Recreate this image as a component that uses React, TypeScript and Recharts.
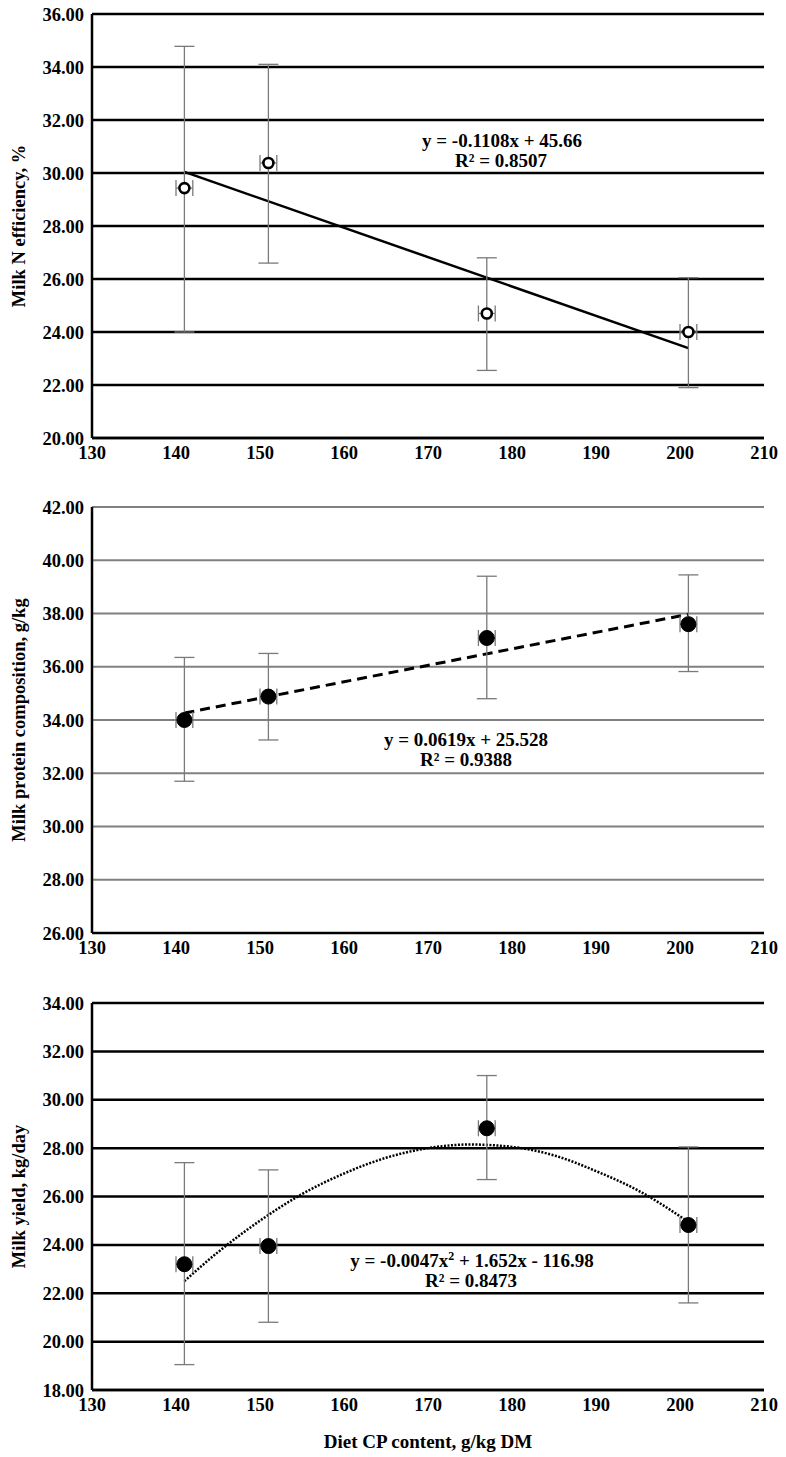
import React from 'react';
import { ComposedChart, Scatter, Line, XAxis, YAxis, CartesianGrid, ErrorBar } from 'recharts';

const FONT = '"Liberation Serif", "Times New Roman", serif';

// Shared x values (diet CP content, g/kg DM)
const dietCP = [141, 151, 177, 201];
const dietCPErr = [1, 1, 1, 1];
const xTicks = [130, 140, 150, 160, 170, 180, 190, 200, 210];

// Panel 1: Milk N efficiency, %
const nEffMean = [29.43, 30.38, 24.7, 24.0];
const nEffLow = [24.0, 26.6, 22.55, 21.9];
const nEffHigh = [34.78, 34.1, 26.8, 26.05];
const nEffTicks = [20, 22, 24, 26, 28, 30, 32, 34, 36];
const nEffTrendX = [141, 201];
const nEffTrendY = [30.04, 23.39];

// Panel 2: Milk protein composition, g/kg
const protMean = [34.0, 34.88, 37.08, 37.6];
const protLow = [31.7, 33.25, 34.8, 35.82];
const protHigh = [36.35, 36.5, 39.4, 39.45];
const protTicks = [26, 28, 30, 32, 34, 36, 38, 40, 42];
const protTrendX = [141, 201];
const protTrendY = [34.26, 37.97];

// Panel 3: Milk yield, kg/day
const yieldMean = [23.2, 23.95, 28.82, 24.82];
const yieldLow = [19.05, 20.8, 26.7, 21.6];
const yieldHigh = [27.4, 27.1, 31.0, 28.05];
const yieldTicks = [18, 20, 22, 24, 26, 28, 30, 32, 34];
const yieldTrendX = [141, 145, 150, 155, 160, 165, 170, 175, 180, 185, 190, 195, 201];
const yieldTrendY = [22.5, 23.7, 25.0, 26.1, 26.95, 27.6, 28.0, 28.15, 28.05, 27.7, 27.05, 26.25, 24.95];

const buildPoints = (mean: number[], low: number[], high: number[]) =>
  dietCP.map((x, i) => ({
    x,
    y: mean[i],
    yErr: [mean[i] - low[i], high[i] - mean[i]],
    xErr: dietCPErr[i],
  }));

const buildTrend = (xs: number[], ys: number[]) => xs.map((x, i) => ({ x, y: ys[i] }));

type PanelProps = {
  top: number;
  height: number;
  marginTop: number;
  marginBottom: number;
  xAxisHeight: number;
  points: any[];
  trend: any[];
  yTicks: number[];
  yLabel: string;
  gridColor: string;
  gridWidth: number;
  marker: 'open' | 'filled';
  trendDash?: string;
  trendWidth: number;
  trendType: 'linear' | 'monotone';
  xTitle?: string;
};

const Panel = (p: PanelProps) => {
  const shape = (props: any) => {
    const { cx, cy } = props;
    if (p.marker === 'open') {
      return <circle cx={cx} cy={cy} r={5} fill="#fff" stroke="#000" strokeWidth={2.6} />;
    }
    return <circle cx={cx} cy={cy} r={7.5} fill="#000" stroke="#000" />;
  };
  return (
    <div style={{ position: 'absolute', left: 0, top: p.top }}>
      <ComposedChart
        width={786}
        height={p.height}
        margin={{ top: p.marginTop, right: 22, bottom: p.marginBottom, left: 0 }}
      >
        <CartesianGrid horizontal vertical={false} stroke={p.gridColor} strokeWidth={p.gridWidth} />
        <XAxis
          type="number"
          dataKey="x"
          domain={[130, 210]}
          ticks={xTicks}
          allowDataOverflow
          height={p.xAxisHeight}
          tickLine={false}
          tickSize={0}
          tickMargin={8}
          axisLine={{ stroke: '#000', strokeWidth: 2.5 }}
          tick={{ fill: '#000', fontSize: 18.5, fontWeight: 700, fontFamily: FONT }}
          label={
            p.xTitle
              ? {
                  value: p.xTitle,
                  position: 'insideBottom',
                  offset: 2,
                  style: { fill: '#000', fontSize: 19, fontWeight: 700, fontFamily: FONT },
                }
              : undefined
          }
        />
        <YAxis
          type="number"
          domain={[p.yTicks[0], p.yTicks[p.yTicks.length - 1]]}
          ticks={p.yTicks}
          allowDataOverflow
          width={92}
          tickLine={false}
          tickSize={0}
          tickMargin={8}
          axisLine={{ stroke: '#000', strokeWidth: 2.5 }}
          tickFormatter={(v: number) => v.toFixed(2)}
          tick={{ fill: '#000', fontSize: 18.5, fontWeight: 700, fontFamily: FONT }}
          label={{
            value: p.yLabel,
            angle: -90,
            position: 'insideLeft',
            offset: 18,
            style: { textAnchor: 'middle', fill: '#000', fontSize: 18.5, fontWeight: 700, fontFamily: FONT },
          }}
        />
        <Line
          data={p.trend}
          dataKey="y"
          type={p.trendType}
          stroke="#000"
          strokeWidth={p.trendWidth}
          strokeDasharray={p.trendDash}
          dot={false}
          activeDot={false}
          isAnimationActive={false}
        />
        <Scatter data={p.points} dataKey="y" shape={shape} isAnimationActive={false}>
          <ErrorBar dataKey="yErr" direction="y" width={10} stroke="#7a7a7a" strokeWidth={1.3} isAnimationActive={false} />
          <ErrorBar dataKey="xErr" direction="x" width={8} stroke="#7a7a7a" strokeWidth={1.3} isAnimationActive={false} />
        </Scatter>
      </ComposedChart>
    </div>
  );
};

const EqText = ({ cx, cy, children }: { cx: number; cy: number; children: React.ReactNode }) => (
  <div
    style={{
      position: 'absolute',
      left: cx - 200,
      top: cy - 10,
      width: 400,
      textAlign: 'center',
      lineHeight: '20px',
      height: 20,
      fontFamily: FONT,
      fontWeight: 700,
      fontSize: 19,
      color: '#000',
      whiteSpace: 'nowrap',
    }}
  >
    {children}
  </div>
);

export default function App() {
  return (
    <div style={{ position: 'absolute', left: 0, top: 0, width: 786, height: 1457, background: '#fff' }}>
      <Panel
        top={0}
        height={470}
        marginTop={14}
        marginBottom={5}
        xAxisHeight={27}
        points={buildPoints(nEffMean, nEffLow, nEffHigh)}
        trend={buildTrend(nEffTrendX, nEffTrendY)}
        yTicks={nEffTicks}
        yLabel="Milk N efficiency, %"
        gridColor="#000"
        gridWidth={2.5}
        marker="open"
        trendWidth={2.5}
        trendType="linear"
      />
      <Panel
        top={490}
        height={470}
        marginTop={17}
        marginBottom={0}
        xAxisHeight={27}
        points={buildPoints(protMean, protLow, protHigh)}
        trend={buildTrend(protTrendX, protTrendY)}
        yTicks={protTicks}
        yLabel="Milk protein composition, g/kg"
        gridColor="#808080"
        gridWidth={2}
        marker="filled"
        trendDash="10 6"
        trendWidth={3}
        trendType="linear"
      />
      <Panel
        top={985}
        height={472}
        marginTop={18}
        marginBottom={7}
        xAxisHeight={60}
        points={buildPoints(yieldMean, yieldLow, yieldHigh)}
        trend={buildTrend(yieldTrendX, yieldTrendY)}
        yTicks={yieldTicks}
        yLabel="Milk yield, kg/day"
        gridColor="#000"
        gridWidth={2.5}
        marker="filled"
        trendDash="2 1.5"
        trendWidth={2.5}
        trendType="monotone"
        xTitle="Diet CP content, g/kg DM"
      />
      <EqText cx={502} cy={141}>y = -0.1108x + 45.66</EqText>
      <EqText cx={501} cy={161}>R² = 0.8507</EqText>
      <EqText cx={466} cy={740}>y = 0.0619x + 25.528</EqText>
      <EqText cx={466} cy={760}>R² = 0.9388</EqText>
      <EqText cx={472} cy={1261}>
        y = -0.0047x<sup style={{ fontSize: 12, lineHeight: 0 }}>2</sup> + 1.652x - 116.98
      </EqText>
      <EqText cx={471} cy={1281}>R² = 0.8473</EqText>
    </div>
  );
}
